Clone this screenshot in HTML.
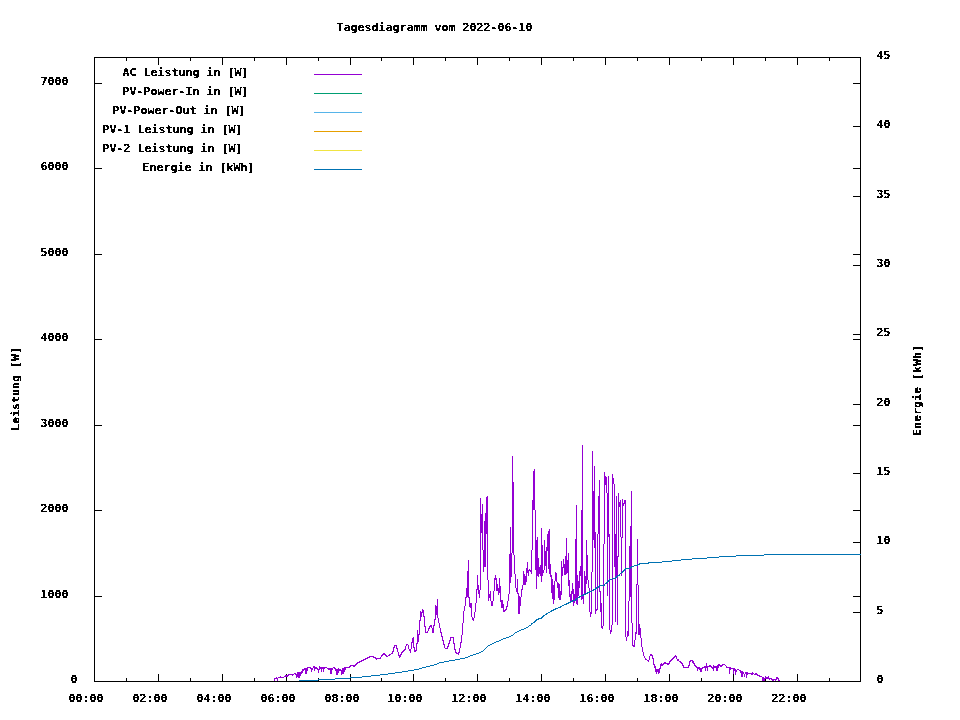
<!DOCTYPE html>
<html lang="de"><head><meta charset="utf-8"><title>Tagesdiagramm vom 2022-06-10</title>
<style>html,body{margin:0;padding:0;background:#fff;overflow:hidden}svg{display:block}text{font-family:"DejaVu Sans Mono", "Liberation Mono", monospace;font-weight:bold;font-size:11px;fill:#000;white-space:pre}</style></head><body>
<svg width="960" height="720" viewBox="0 0 960 720">
<rect width="960" height="720" fill="#fff"/>
<defs><filter id="px" x="0" y="0" width="960" height="720" filterUnits="userSpaceOnUse" color-interpolation-filters="sRGB"><feComponentTransfer><feFuncA type="discrete" tableValues="0 0 1 1 1"/></feComponentTransfer></filter></defs>
<path d="M94 57h767v1h-767zM94 681h767v1h-767zM94 57h1v625h-1zM860 57h1v625h-1zM126 678h1v4h-1zM126 57h1v4h-1zM158 674h1v8h-1zM158 57h1v8h-1zM190 678h1v4h-1zM190 57h1v4h-1zM222 674h1v8h-1zM222 57h1v8h-1zM254 678h1v4h-1zM254 57h1v4h-1zM286 674h1v8h-1zM286 57h1v8h-1zM318 678h1v4h-1zM318 57h1v4h-1zM350 674h1v8h-1zM350 57h1v8h-1zM381 678h1v4h-1zM381 57h1v4h-1zM413 674h1v8h-1zM413 57h1v8h-1zM445 678h1v4h-1zM445 57h1v4h-1zM477 674h1v8h-1zM477 57h1v8h-1zM509 678h1v4h-1zM509 57h1v4h-1zM541 674h1v8h-1zM541 57h1v8h-1zM573 678h1v4h-1zM573 57h1v4h-1zM605 674h1v8h-1zM605 57h1v8h-1zM637 678h1v4h-1zM637 57h1v4h-1zM669 674h1v8h-1zM669 57h1v8h-1zM701 678h1v4h-1zM701 57h1v4h-1zM733 674h1v8h-1zM733 57h1v8h-1zM765 678h1v4h-1zM765 57h1v4h-1zM797 674h1v8h-1zM797 57h1v8h-1zM829 678h1v4h-1zM829 57h1v4h-1zM94 596h8v1h-8zM853 596h8v1h-8zM94 510h8v1h-8zM853 510h8v1h-8zM94 425h8v1h-8zM853 425h8v1h-8zM94 339h8v1h-8zM853 339h8v1h-8zM94 254h8v1h-8zM853 254h8v1h-8zM94 168h8v1h-8zM853 168h8v1h-8zM94 83h8v1h-8zM853 83h8v1h-8zM853 612h8v1h-8zM853 542h8v1h-8zM853 473h8v1h-8zM853 404h8v1h-8zM853 334h8v1h-8zM853 265h8v1h-8zM853 196h8v1h-8zM853 126h8v1h-8z" fill="#000" shape-rendering="crispEdges"/>
<path d="M274 678h1v3h-1zM275 678h1v1h-1zM276 677h1v2h-1zM277 678h1v3h-1zM278 677h1v1h-1zM279 677h1v1h-1zM280 676h1v2h-1zM281 677h1v1h-1zM282 677h1v1h-1zM283 677h1v1h-1zM284 676h1v1h-1zM285 675h1v2h-1zM286 675h1v2h-1zM287 675h1v2h-1zM288 674h1v2h-1zM289 674h1v1h-1zM290 674h1v1h-1zM291 674h1v1h-1zM292 674h1v2h-1zM293 674h1v1h-1zM294 673h1v1h-1zM295 673h1v2h-1zM296 674h1v4h-1zM297 672h1v5h-1zM298 672h1v6h-1zM299 672h1v6h-1zM300 672h1v4h-1zM301 671h1v3h-1zM302 669h1v4h-1zM303 669h1v2h-1zM304 668h1v2h-1zM305 668h1v6h-1zM306 668h1v6h-1zM307 667h1v4h-1zM308 667h1v1h-1zM309 667h1v1h-1zM310 667h1v2h-1zM311 668h1v4h-1zM312 668h1v2h-1zM313 666h1v2h-1zM314 666h1v5h-1zM315 667h1v2h-1zM316 667h1v2h-1zM317 668h1v2h-1zM318 669h1v4h-1zM319 666h1v4h-1zM320 667h1v2h-1zM321 667h1v5h-1zM322 667h1v2h-1zM323 667h1v5h-1zM324 667h1v2h-1zM325 667h1v1h-1zM326 667h1v1h-1zM327 668h1v1h-1zM328 668h1v2h-1zM329 668h1v2h-1zM330 668h1v6h-1zM331 668h1v6h-1zM332 668h1v2h-1zM333 667h1v1h-1zM334 667h1v2h-1zM335 668h1v3h-1zM336 669h1v6h-1zM337 669h1v6h-1zM338 668h1v5h-1zM339 669h1v2h-1zM340 669h1v2h-1zM341 670h1v5h-1zM342 668h1v6h-1zM343 668h1v6h-1zM344 667h1v5h-1zM345 667h1v3h-1zM346 667h1v1h-1zM347 667h1v1h-1zM348 667h1v1h-1zM349 666h1v2h-1zM350 665h1v2h-1zM351 665h1v1h-1zM352 665h1v1h-1zM353 665h1v2h-1zM354 665h1v2h-1zM355 664h1v2h-1zM356 663h1v2h-1zM357 662h1v2h-1zM358 662h1v1h-1zM359 661h1v2h-1zM360 661h1v1h-1zM361 660h1v2h-1zM362 660h1v1h-1zM363 659h1v2h-1zM364 659h1v1h-1zM365 658h1v2h-1zM366 658h1v1h-1zM367 657h1v2h-1zM368 657h1v1h-1zM369 656h1v2h-1zM370 656h1v1h-1zM371 656h1v1h-1zM372 656h1v1h-1zM373 656h1v2h-1zM374 657h1v1h-1zM375 657h1v2h-1zM376 658h1v2h-1zM377 658h1v1h-1zM378 658h1v1h-1zM379 658h1v1h-1zM380 657h1v2h-1zM381 655h1v2h-1zM382 654h1v2h-1zM383 653h1v2h-1zM384 653h1v2h-1zM385 654h1v2h-1zM386 655h1v2h-1zM387 656h1v1h-1zM388 655h1v1h-1zM389 654h1v2h-1zM390 654h1v1h-1zM391 653h1v1h-1zM392 651h1v3h-1zM393 647h1v5h-1zM394 645h1v3h-1zM395 645h1v1h-1zM396 645h1v4h-1zM397 648h1v4h-1zM398 652h1v4h-1zM399 655h1v3h-1zM400 654h1v3h-1zM401 652h1v3h-1zM402 651h1v2h-1zM403 650h1v2h-1zM404 649h1v2h-1zM405 646h1v4h-1zM406 644h1v2h-1zM407 644h1v1h-1zM408 645h1v4h-1zM409 649h1v2h-1zM410 649h1v4h-1zM411 642h1v7h-1zM412 638h1v5h-1zM413 637h1v11h-1zM414 647h1v5h-1zM415 650h1v2h-1zM416 643h1v8h-1zM417 630h1v14h-1zM418 634h1v8h-1zM419 620h1v15h-1zM420 611h1v10h-1zM421 612h1v5h-1zM422 609h1v4h-1zM423 610h1v7h-1zM424 616h1v11h-1zM425 626h1v7h-1zM426 632h1v1h-1zM427 631h1v2h-1zM428 628h1v3h-1zM429 626h1v3h-1zM430 625h1v2h-1zM431 625h1v3h-1zM432 628h1v5h-1zM433 625h1v8h-1zM434 619h1v7h-1zM435 605h1v15h-1zM436 606h1v9h-1zM437 599h1v19h-1zM438 618h1v5h-1zM439 623h1v5h-1zM440 628h1v5h-1zM441 632h1v5h-1zM442 636h1v5h-1zM443 640h1v5h-1zM444 644h1v4h-1zM445 648h1v1h-1zM446 648h1v1h-1zM447 646h1v3h-1zM448 643h1v4h-1zM449 640h1v4h-1zM450 637h1v4h-1zM451 637h1v1h-1zM452 637h1v1h-1zM453 637h1v7h-1zM454 643h1v7h-1zM455 649h1v4h-1zM456 652h1v2h-1zM457 653h1v1h-1zM458 652h1v3h-1zM459 648h1v5h-1zM460 642h1v6h-1zM461 635h1v8h-1zM462 623h1v12h-1zM463 611h1v12h-1zM464 606h1v5h-1zM465 597h1v9h-1zM466 588h1v10h-1zM467 571h1v26h-1zM468 560h1v38h-1zM469 597h1v10h-1zM470 603h1v5h-1zM471 603h1v14h-1zM472 617h1v3h-1zM473 618h1v3h-1zM474 612h1v6h-1zM475 603h1v9h-1zM476 589h1v14h-1zM477 575h1v15h-1zM478 585h1v9h-1zM479 590h1v8h-1zM480 498h1v92h-1zM481 514h1v19h-1zM482 504h1v46h-1zM483 550h1v22h-1zM484 521h1v46h-1zM485 513h1v54h-1zM486 497h1v37h-1zM487 496h1v84h-1zM488 580h1v21h-1zM489 594h1v4h-1zM490 591h1v10h-1zM491 601h1v5h-1zM492 601h1v5h-1zM493 591h1v10h-1zM494 578h1v13h-1zM495 575h1v5h-1zM496 578h1v13h-1zM497 584h1v7h-1zM498 588h1v7h-1zM499 578h1v15h-1zM500 586h1v16h-1zM501 600h1v8h-1zM502 600h1v8h-1zM503 604h1v8h-1zM504 610h1v2h-1zM505 609h1v2h-1zM506 606h1v4h-1zM507 601h1v6h-1zM508 594h1v7h-1zM509 554h1v40h-1zM510 527h1v56h-1zM511 553h1v24h-1zM512 456h1v97h-1zM513 482h1v73h-1zM514 555h1v19h-1zM515 574h1v14h-1zM516 588h1v4h-1zM517 579h1v15h-1zM518 593h1v21h-1zM519 596h1v18h-1zM520 597h1v9h-1zM521 589h1v8h-1zM522 585h1v5h-1zM523 571h1v14h-1zM524 574h1v11h-1zM525 576h1v9h-1zM526 568h1v14h-1zM527 562h1v11h-1zM528 570h1v6h-1zM529 569h1v2h-1zM530 570h1v2h-1zM531 550h1v24h-1zM532 500h1v50h-1zM533 471h1v39h-1zM534 469h1v41h-1zM535 510h1v60h-1zM536 540h1v49h-1zM537 537h1v39h-1zM538 558h1v19h-1zM539 567h1v7h-1zM540 565h1v11h-1zM541 528h1v54h-1zM542 545h1v31h-1zM543 570h1v3h-1zM544 540h1v30h-1zM545 551h1v15h-1zM546 547h1v26h-1zM547 534h1v17h-1zM548 531h1v38h-1zM549 529h1v45h-1zM550 564h1v13h-1zM551 575h1v18h-1zM552 579h1v20h-1zM553 585h1v19h-1zM554 581h1v19h-1zM555 572h1v9h-1zM556 573h1v9h-1zM557 582h1v6h-1zM558 583h1v15h-1zM559 584h1v16h-1zM560 591h1v9h-1zM561 561h1v34h-1zM562 567h1v9h-1zM563 559h1v9h-1zM564 564h1v11h-1zM565 556h1v19h-1zM566 538h1v36h-1zM567 560h1v13h-1zM568 553h1v33h-1zM569 580h1v17h-1zM570 594h1v9h-1zM571 591h1v10h-1zM572 583h1v11h-1zM573 589h1v17h-1zM574 594h1v9h-1zM575 539h1v62h-1zM576 505h1v99h-1zM577 575h1v30h-1zM578 581h1v15h-1zM579 571h1v17h-1zM580 566h1v10h-1zM581 510h1v90h-1zM582 445h1v154h-1zM583 595h1v9h-1zM584 571h1v24h-1zM585 576h1v18h-1zM586 540h1v44h-1zM587 555h1v25h-1zM588 580h1v8h-1zM589 588h1v24h-1zM590 612h1v5h-1zM591 572h1v42h-1zM592 451h1v121h-1zM593 491h1v49h-1zM594 466h1v82h-1zM595 532h1v82h-1zM596 609h1v2h-1zM597 534h1v76h-1zM598 496h1v38h-1zM599 480h1v112h-1zM600 591h1v21h-1zM601 603h1v25h-1zM602 626h1v3h-1zM603 544h1v82h-1zM604 472h1v72h-1zM605 476h1v9h-1zM606 477h1v16h-1zM607 493h1v103h-1zM608 476h1v61h-1zM609 534h1v96h-1zM610 630h1v4h-1zM611 625h1v7h-1zM612 474h1v151h-1zM613 478h1v6h-1zM614 484h1v83h-1zM615 534h1v88h-1zM616 496h1v82h-1zM617 556h1v69h-1zM618 493h1v64h-1zM619 502h1v5h-1zM620 500h1v37h-1zM621 537h1v39h-1zM622 499h1v39h-1zM623 503h1v3h-1zM624 500h1v4h-1zM625 500h1v137h-1zM626 637h1v4h-1zM627 631h1v6h-1zM628 601h1v35h-1zM629 546h1v55h-1zM630 526h1v71h-1zM631 491h1v132h-1zM632 623h1v23h-1zM633 645h1v2h-1zM634 640h1v7h-1zM635 632h1v8h-1zM636 584h1v50h-1zM637 539h1v46h-1zM638 585h1v50h-1zM639 624h1v11h-1zM640 628h1v10h-1zM641 638h1v9h-1zM642 647h1v5h-1zM643 652h1v4h-1zM644 656h1v2h-1zM645 658h1v2h-1zM646 659h1v1h-1zM647 660h1v1h-1zM648 660h1v2h-1zM649 656h1v4h-1zM650 654h1v2h-1zM651 654h1v2h-1zM652 655h1v4h-1zM653 658h1v7h-1zM654 664h1v4h-1zM655 666h1v6h-1zM656 669h1v5h-1zM657 669h1v3h-1zM658 669h1v5h-1zM659 668h1v5h-1zM660 664h1v5h-1zM661 663h1v3h-1zM662 664h1v2h-1zM663 663h1v2h-1zM664 662h1v2h-1zM665 662h1v2h-1zM666 663h1v1h-1zM667 663h1v2h-1zM668 663h1v2h-1zM669 661h1v3h-1zM670 660h1v2h-1zM671 659h1v2h-1zM672 658h1v2h-1zM673 657h1v2h-1zM674 656h1v2h-1zM675 655h1v2h-1zM676 656h1v3h-1zM677 659h1v2h-1zM678 659h1v2h-1zM679 661h1v1h-1zM680 661h1v2h-1zM681 662h1v2h-1zM682 663h1v3h-1zM683 665h1v3h-1zM684 667h1v1h-1zM685 667h1v1h-1zM686 667h1v1h-1zM687 667h1v1h-1zM688 665h1v3h-1zM689 661h1v5h-1zM690 660h1v2h-1zM691 660h1v1h-1zM692 660h1v3h-1zM693 661h1v3h-1zM694 663h1v3h-1zM695 665h1v2h-1zM696 666h1v2h-1zM697 667h1v4h-1zM698 667h1v2h-1zM699 667h1v3h-1zM700 668h1v4h-1zM701 668h1v4h-1zM702 667h1v2h-1zM703 667h1v1h-1zM704 666h1v2h-1zM705 666h1v5h-1zM706 663h1v5h-1zM707 666h1v5h-1zM708 666h1v1h-1zM709 665h1v2h-1zM710 665h1v2h-1zM711 666h1v2h-1zM712 667h1v2h-1zM713 665h1v6h-1zM714 666h1v2h-1zM715 666h1v2h-1zM716 666h1v5h-1zM717 665h1v6h-1zM718 664h1v4h-1zM719 664h1v2h-1zM720 665h1v2h-1zM721 665h1v2h-1zM722 664h1v2h-1zM723 664h1v1h-1zM724 664h1v1h-1zM725 665h1v1h-1zM726 666h1v2h-1zM727 667h1v1h-1zM728 667h1v1h-1zM729 667h1v7h-1zM730 667h1v3h-1zM731 668h1v1h-1zM732 668h1v1h-1zM733 668h1v6h-1zM734 668h1v3h-1zM735 669h1v6h-1zM736 670h1v2h-1zM737 669h1v1h-1zM738 669h1v1h-1zM739 670h1v1h-1zM740 670h1v3h-1zM741 671h1v6h-1zM742 671h1v6h-1zM743 672h1v2h-1zM744 674h1v3h-1zM745 672h1v2h-1zM746 672h1v6h-1zM747 672h1v3h-1zM748 673h1v1h-1zM749 673h1v1h-1zM750 673h1v1h-1zM751 673h1v2h-1zM752 672h1v3h-1zM753 673h1v1h-1zM754 674h1v1h-1zM755 673h1v2h-1zM756 673h1v2h-1zM757 674h1v2h-1zM758 675h1v1h-1zM759 675h1v2h-1zM760 676h1v1h-1zM761 676h1v1h-1zM762 677h1v4h-1zM763 677h1v4h-1zM764 678h1v3h-1zM765 676h1v3h-1zM766 677h1v2h-1zM767 677h1v2h-1zM768 676h1v3h-1zM769 678h1v2h-1zM770 678h1v1h-1zM771 678h1v2h-1zM772 679h1v2h-1zM773 679h1v2h-1zM774 679h1v1h-1zM775 679h1v2h-1zM776 677h1v3h-1zM777 677h1v2h-1zM778 678h1v3h-1zM779 680h1v1h-1z" fill="#9400d3" shape-rendering="crispEdges"/>
<path d="M299 680h1v1h-1zM300 680h1v1h-1zM301 680h1v1h-1zM302 680h1v1h-1zM303 680h1v1h-1zM304 680h1v1h-1zM305 680h1v1h-1zM306 680h1v1h-1zM307 680h1v1h-1zM308 680h1v1h-1zM309 680h1v1h-1zM310 680h1v1h-1zM311 680h1v1h-1zM312 680h1v1h-1zM313 680h1v1h-1zM314 680h1v1h-1zM315 680h1v1h-1zM316 680h1v1h-1zM317 680h1v1h-1zM318 679h1v1h-1zM319 679h1v1h-1zM320 679h1v1h-1zM321 679h1v1h-1zM322 679h1v1h-1zM323 679h1v1h-1zM324 679h1v1h-1zM325 679h1v1h-1zM326 679h1v1h-1zM327 679h1v1h-1zM328 679h1v1h-1zM329 679h1v1h-1zM330 679h1v1h-1zM331 679h1v1h-1zM332 679h1v1h-1zM333 679h1v1h-1zM334 679h1v1h-1zM335 678h1v1h-1zM336 678h1v1h-1zM337 678h1v1h-1zM338 678h1v1h-1zM339 678h1v1h-1zM340 678h1v1h-1zM341 678h1v1h-1zM342 678h1v1h-1zM343 678h1v1h-1zM344 678h1v1h-1zM345 678h1v1h-1zM346 678h1v1h-1zM347 678h1v1h-1zM348 678h1v1h-1zM349 678h1v1h-1zM350 677h1v1h-1zM351 677h1v1h-1zM352 677h1v1h-1zM353 677h1v1h-1zM354 677h1v1h-1zM355 677h1v1h-1zM356 677h1v1h-1zM357 677h1v1h-1zM358 677h1v1h-1zM359 677h1v1h-1zM360 677h1v1h-1zM361 677h1v1h-1zM362 676h1v1h-1zM363 676h1v1h-1zM364 676h1v1h-1zM365 676h1v1h-1zM366 676h1v1h-1zM367 676h1v1h-1zM368 676h1v1h-1zM369 676h1v1h-1zM370 676h1v1h-1zM371 675h1v1h-1zM372 675h1v1h-1zM373 675h1v1h-1zM374 675h1v1h-1zM375 675h1v1h-1zM376 675h1v1h-1zM377 675h1v1h-1zM378 675h1v1h-1zM379 675h1v1h-1zM380 674h1v1h-1zM381 674h1v1h-1zM382 674h1v1h-1zM383 674h1v1h-1zM384 674h1v1h-1zM385 674h1v1h-1zM386 674h1v1h-1zM387 674h1v1h-1zM388 673h1v1h-1zM389 673h1v1h-1zM390 673h1v1h-1zM391 673h1v1h-1zM392 673h1v1h-1zM393 673h1v1h-1zM394 673h1v1h-1zM395 672h1v1h-1zM396 672h1v1h-1zM397 672h1v1h-1zM398 672h1v1h-1zM399 672h1v1h-1zM400 672h1v1h-1zM401 672h1v1h-1zM402 671h1v1h-1zM403 671h1v1h-1zM404 671h1v1h-1zM405 671h1v1h-1zM406 671h1v1h-1zM407 671h1v1h-1zM408 670h1v1h-1zM409 670h1v1h-1zM410 670h1v1h-1zM411 670h1v1h-1zM412 670h1v1h-1zM413 670h1v1h-1zM414 669h1v1h-1zM415 669h1v1h-1zM416 669h1v1h-1zM417 669h1v1h-1zM418 669h1v1h-1zM419 668h1v1h-1zM420 668h1v1h-1zM421 668h1v1h-1zM422 667h1v1h-1zM423 667h1v1h-1zM424 667h1v1h-1zM425 667h1v1h-1zM426 666h1v1h-1zM427 666h1v1h-1zM428 666h1v1h-1zM429 666h1v1h-1zM430 665h1v1h-1zM431 665h1v1h-1zM432 665h1v1h-1zM433 665h1v1h-1zM434 664h1v1h-1zM435 664h1v1h-1zM436 664h1v1h-1zM437 663h1v1h-1zM438 663h1v1h-1zM439 662h1v1h-1zM440 662h1v1h-1zM441 662h1v1h-1zM442 662h1v1h-1zM443 662h1v1h-1zM444 661h1v1h-1zM445 661h1v1h-1zM446 661h1v1h-1zM447 661h1v1h-1zM448 661h1v1h-1zM449 660h1v1h-1zM450 660h1v1h-1zM451 660h1v1h-1zM452 660h1v1h-1zM453 660h1v1h-1zM454 660h1v1h-1zM455 659h1v1h-1zM456 659h1v1h-1zM457 659h1v1h-1zM458 659h1v1h-1zM459 659h1v1h-1zM460 658h1v1h-1zM461 658h1v1h-1zM462 658h1v1h-1zM463 658h1v1h-1zM464 658h1v1h-1zM465 657h1v1h-1zM466 657h1v1h-1zM467 657h1v1h-1zM468 656h1v1h-1zM469 656h1v1h-1zM470 655h1v1h-1zM471 655h1v1h-1zM472 655h1v1h-1zM473 654h1v1h-1zM474 654h1v1h-1zM475 654h1v1h-1zM476 653h1v1h-1zM477 653h1v1h-1zM478 653h1v1h-1zM479 652h1v1h-1zM480 652h1v1h-1zM481 651h1v1h-1zM482 651h1v1h-1zM483 650h1v1h-1zM484 649h1v1h-1zM485 648h1v1h-1zM486 647h1v1h-1zM487 646h1v1h-1zM488 645h1v1h-1zM489 645h1v1h-1zM490 644h1v1h-1zM491 644h1v1h-1zM492 643h1v1h-1zM493 643h1v1h-1zM494 642h1v1h-1zM495 642h1v1h-1zM496 641h1v1h-1zM497 641h1v1h-1zM498 641h1v1h-1zM499 640h1v1h-1zM500 640h1v1h-1zM501 639h1v1h-1zM502 639h1v1h-1zM503 638h1v1h-1zM504 638h1v1h-1zM505 638h1v1h-1zM506 637h1v1h-1zM507 637h1v1h-1zM508 637h1v1h-1zM509 636h1v1h-1zM510 636h1v1h-1zM511 635h1v1h-1zM512 635h1v1h-1zM513 634h1v1h-1zM514 633h1v1h-1zM515 632h1v1h-1zM516 632h1v1h-1zM517 631h1v1h-1zM518 631h1v1h-1zM519 630h1v1h-1zM520 630h1v1h-1zM521 629h1v1h-1zM522 629h1v1h-1zM523 629h1v1h-1zM524 628h1v1h-1zM525 628h1v1h-1zM526 627h1v1h-1zM527 627h1v1h-1zM528 626h1v1h-1zM529 625h1v1h-1zM530 625h1v1h-1zM531 623h1v2h-1zM532 623h1v1h-1zM533 622h1v1h-1zM534 621h1v2h-1zM535 620h1v2h-1zM536 619h1v2h-1zM537 619h1v1h-1zM538 618h1v2h-1zM539 618h1v1h-1zM540 618h1v1h-1zM541 617h1v2h-1zM542 616h1v2h-1zM543 615h1v2h-1zM544 615h1v1h-1zM545 614h1v1h-1zM546 613h1v2h-1zM547 613h1v1h-1zM548 612h1v1h-1zM549 612h1v1h-1zM550 611h1v1h-1zM551 610h1v2h-1zM552 610h1v1h-1zM553 609h1v2h-1zM554 609h1v1h-1zM555 608h1v2h-1zM556 608h1v1h-1zM557 608h1v1h-1zM558 607h1v1h-1zM559 607h1v1h-1zM560 606h1v2h-1zM561 606h1v1h-1zM562 605h1v1h-1zM563 605h1v1h-1zM564 604h1v1h-1zM565 604h1v1h-1zM566 603h1v2h-1zM567 603h1v1h-1zM568 602h1v2h-1zM569 602h1v1h-1zM570 601h1v2h-1zM571 601h1v1h-1zM572 600h1v2h-1zM573 600h1v1h-1zM574 600h1v1h-1zM575 599h1v2h-1zM576 598h1v2h-1zM577 598h1v1h-1zM578 597h1v1h-1zM579 596h1v2h-1zM580 596h1v1h-1zM581 595h1v1h-1zM582 595h1v1h-1zM583 594h1v2h-1zM584 594h1v1h-1zM585 593h1v2h-1zM586 593h1v1h-1zM587 592h1v2h-1zM588 592h1v1h-1zM589 591h1v2h-1zM590 591h1v1h-1zM591 591h1v1h-1zM592 590h1v1h-1zM593 589h1v2h-1zM594 589h1v1h-1zM595 588h1v2h-1zM596 587h1v2h-1zM597 587h1v1h-1zM598 586h1v2h-1zM599 585h1v2h-1zM600 585h1v1h-1zM601 585h1v1h-1zM602 585h1v1h-1zM603 585h1v1h-1zM604 584h1v2h-1zM605 583h1v1h-1zM606 582h1v2h-1zM607 581h1v2h-1zM608 580h1v2h-1zM609 579h1v2h-1zM610 579h1v1h-1zM611 579h1v1h-1zM612 578h1v1h-1zM613 578h1v1h-1zM614 578h1v1h-1zM615 577h1v2h-1zM616 576h1v2h-1zM617 575h1v2h-1zM618 575h1v1h-1zM619 574h1v2h-1zM620 573h1v1h-1zM621 572h1v1h-1zM622 571h1v2h-1zM623 570h1v2h-1zM624 569h1v2h-1zM625 568h1v2h-1zM626 568h1v1h-1zM627 568h1v1h-1zM628 568h1v1h-1zM629 568h1v1h-1zM630 567h1v2h-1zM631 566h1v2h-1zM632 566h1v1h-1zM633 566h1v1h-1zM634 565h1v1h-1zM635 565h1v1h-1zM636 565h1v1h-1zM637 564h1v2h-1zM638 564h1v1h-1zM639 563h1v2h-1zM640 563h1v1h-1zM641 563h1v1h-1zM642 563h1v1h-1zM643 563h1v1h-1zM644 563h1v1h-1zM645 563h1v1h-1zM646 563h1v1h-1zM647 563h1v1h-1zM648 562h1v2h-1zM649 562h1v1h-1zM650 562h1v1h-1zM651 562h1v1h-1zM652 562h1v1h-1zM653 562h1v1h-1zM654 562h1v1h-1zM655 562h1v1h-1zM656 562h1v1h-1zM657 562h1v1h-1zM658 562h1v1h-1zM659 562h1v1h-1zM660 562h1v1h-1zM661 562h1v1h-1zM662 561h1v1h-1zM663 561h1v1h-1zM664 561h1v1h-1zM665 561h1v1h-1zM666 561h1v1h-1zM667 561h1v1h-1zM668 561h1v1h-1zM669 561h1v1h-1zM670 561h1v1h-1zM671 561h1v1h-1zM672 560h1v1h-1zM673 560h1v1h-1zM674 560h1v1h-1zM675 560h1v1h-1zM676 560h1v1h-1zM677 560h1v1h-1zM678 560h1v1h-1zM679 560h1v1h-1zM680 560h1v1h-1zM681 559h1v1h-1zM682 559h1v1h-1zM683 559h1v1h-1zM684 559h1v1h-1zM685 559h1v1h-1zM686 559h1v1h-1zM687 559h1v1h-1zM688 559h1v1h-1zM689 559h1v1h-1zM690 559h1v1h-1zM691 559h1v1h-1zM692 558h1v1h-1zM693 558h1v1h-1zM694 558h1v1h-1zM695 558h1v1h-1zM696 558h1v1h-1zM697 558h1v1h-1zM698 558h1v1h-1zM699 558h1v1h-1zM700 558h1v1h-1zM701 558h1v1h-1zM702 558h1v1h-1zM703 558h1v1h-1zM704 558h1v1h-1zM705 558h1v1h-1zM706 558h1v1h-1zM707 557h1v1h-1zM708 557h1v1h-1zM709 557h1v1h-1zM710 557h1v1h-1zM711 557h1v1h-1zM712 557h1v1h-1zM713 557h1v1h-1zM714 557h1v1h-1zM715 557h1v1h-1zM716 557h1v1h-1zM717 557h1v1h-1zM718 557h1v1h-1zM719 556h1v1h-1zM720 556h1v1h-1zM721 556h1v1h-1zM722 556h1v1h-1zM723 556h1v1h-1zM724 556h1v1h-1zM725 556h1v1h-1zM726 556h1v1h-1zM727 556h1v1h-1zM728 556h1v1h-1zM729 556h1v1h-1zM730 556h1v1h-1zM731 556h1v1h-1zM732 556h1v1h-1zM733 556h1v1h-1zM734 556h1v1h-1zM735 556h1v1h-1zM736 555h1v1h-1zM737 555h1v1h-1zM738 555h1v1h-1zM739 555h1v1h-1zM740 555h1v1h-1zM741 555h1v1h-1zM742 555h1v1h-1zM743 555h1v1h-1zM744 555h1v1h-1zM745 555h1v1h-1zM746 555h1v1h-1zM747 555h1v1h-1zM748 555h1v1h-1zM749 555h1v1h-1zM750 555h1v1h-1zM751 555h1v1h-1zM752 555h1v1h-1zM753 555h1v1h-1zM754 555h1v1h-1zM755 555h1v1h-1zM756 555h1v1h-1zM757 555h1v1h-1zM758 555h1v1h-1zM759 555h1v1h-1zM760 555h1v1h-1zM761 555h1v1h-1zM762 555h1v1h-1zM763 555h1v1h-1zM764 554h1v1h-1zM765 554h1v1h-1zM766 554h1v1h-1zM767 554h1v1h-1zM768 554h1v1h-1zM769 554h1v1h-1zM770 554h1v1h-1zM771 554h1v1h-1zM772 554h1v1h-1zM773 554h1v1h-1zM774 554h1v1h-1zM775 554h1v1h-1zM776 554h1v1h-1zM777 554h1v1h-1zM778 554h1v1h-1zM779 554h1v1h-1zM780 554h1v1h-1zM781 554h1v1h-1zM782 554h1v1h-1zM783 554h1v1h-1zM784 554h1v1h-1zM785 554h1v1h-1zM786 554h1v1h-1zM787 554h1v1h-1zM788 554h1v1h-1zM789 554h1v1h-1zM790 554h1v1h-1zM791 554h1v1h-1zM792 554h1v1h-1zM793 554h1v1h-1zM794 554h1v1h-1zM795 554h1v1h-1zM796 554h1v1h-1zM797 554h1v1h-1zM798 554h1v1h-1zM799 554h1v1h-1zM800 554h1v1h-1zM801 554h1v1h-1zM802 554h1v1h-1zM803 554h1v1h-1zM804 554h1v1h-1zM805 554h1v1h-1zM806 554h1v1h-1zM807 554h1v1h-1zM808 554h1v1h-1zM809 554h1v1h-1zM810 554h1v1h-1zM811 554h1v1h-1zM812 554h1v1h-1zM813 554h1v1h-1zM814 554h1v1h-1zM815 554h1v1h-1zM816 554h1v1h-1zM817 554h1v1h-1zM818 554h1v1h-1zM819 554h1v1h-1zM820 554h1v1h-1zM821 554h1v1h-1zM822 554h1v1h-1zM823 554h1v1h-1zM824 554h1v1h-1zM825 554h1v1h-1zM826 554h1v1h-1zM827 554h1v1h-1zM828 554h1v1h-1zM829 554h1v1h-1zM830 554h1v1h-1zM831 554h1v1h-1zM832 554h1v1h-1zM833 554h1v1h-1zM834 554h1v1h-1zM835 554h1v1h-1zM836 554h1v1h-1zM837 554h1v1h-1zM838 554h1v1h-1zM839 554h1v1h-1zM840 554h1v1h-1zM841 554h1v1h-1zM842 554h1v1h-1zM843 554h1v1h-1zM844 554h1v1h-1zM845 554h1v1h-1zM846 554h1v1h-1zM847 554h1v1h-1zM848 554h1v1h-1zM849 554h1v1h-1zM850 554h1v1h-1zM851 554h1v1h-1zM852 554h1v1h-1zM853 554h1v1h-1zM854 554h1v1h-1zM855 554h1v1h-1zM856 554h1v1h-1zM857 554h1v1h-1zM858 554h1v1h-1zM859 554h1v1h-1zM860 554h1v1h-1z" fill="#0072b2" shape-rendering="crispEdges"/>
<g filter="url(#px)">
<path d="M314 74h48v1h-48z" fill="#9400d3" shape-rendering="crispEdges"/>
<text x="122.6" y="76" textLength="126" lengthAdjust="spacingAndGlyphs">AC Leistung in [W]</text>
<path d="M314 93h48v1h-48z" fill="#009e73" shape-rendering="crispEdges"/>
<text x="122.6" y="95" textLength="126" lengthAdjust="spacingAndGlyphs">PV-Power-In in [W]</text>
<path d="M314 112h48v1h-48z" fill="#56b4e9" shape-rendering="crispEdges"/>
<text x="112.6" y="114" textLength="133" lengthAdjust="spacingAndGlyphs">PV-Power-Out in [W]</text>
<path d="M314 131h48v1h-48z" fill="#e69f00" shape-rendering="crispEdges"/>
<text x="102.6" y="133" textLength="140" lengthAdjust="spacingAndGlyphs">PV-1 Leistung in [W]</text>
<path d="M314 150h48v1h-48z" fill="#f0e442" shape-rendering="crispEdges"/>
<text x="102.6" y="152" textLength="140" lengthAdjust="spacingAndGlyphs">PV-2 Leistung in [W]</text>
<path d="M314 169h48v1h-48z" fill="#0072b2" shape-rendering="crispEdges"/>
<text x="142.6" y="171" textLength="112" lengthAdjust="spacingAndGlyphs">Energie in [kWh]</text>
<text x="336.6" y="31" textLength="196" lengthAdjust="spacingAndGlyphs">Tagesdiagramm vom 2022-06-10</text>
<text x="70.6" y="683" textLength="7" lengthAdjust="spacingAndGlyphs">0</text>
<text x="40.6" y="598" textLength="28" lengthAdjust="spacingAndGlyphs">1000</text>
<text x="40.6" y="512" textLength="28" lengthAdjust="spacingAndGlyphs">2000</text>
<text x="40.6" y="427" textLength="28" lengthAdjust="spacingAndGlyphs">3000</text>
<text x="40.6" y="341" textLength="28" lengthAdjust="spacingAndGlyphs">4000</text>
<text x="40.6" y="256" textLength="28" lengthAdjust="spacingAndGlyphs">5000</text>
<text x="40.6" y="170" textLength="28" lengthAdjust="spacingAndGlyphs">6000</text>
<text x="40.6" y="85" textLength="28" lengthAdjust="spacingAndGlyphs">7000</text>
<text x="876.6" y="683" textLength="7" lengthAdjust="spacingAndGlyphs">0</text>
<text x="876.6" y="614" textLength="7" lengthAdjust="spacingAndGlyphs">5</text>
<text x="876.6" y="544" textLength="14" lengthAdjust="spacingAndGlyphs">10</text>
<text x="876.6" y="475" textLength="14" lengthAdjust="spacingAndGlyphs">15</text>
<text x="876.6" y="406" textLength="14" lengthAdjust="spacingAndGlyphs">20</text>
<text x="876.6" y="336" textLength="14" lengthAdjust="spacingAndGlyphs">25</text>
<text x="876.6" y="267" textLength="14" lengthAdjust="spacingAndGlyphs">30</text>
<text x="876.6" y="198" textLength="14" lengthAdjust="spacingAndGlyphs">35</text>
<text x="876.6" y="128" textLength="14" lengthAdjust="spacingAndGlyphs">40</text>
<text x="876.6" y="59" textLength="14" lengthAdjust="spacingAndGlyphs">45</text>
<text x="68.6" y="702" textLength="35" lengthAdjust="spacingAndGlyphs">00:00</text>
<text x="132.6" y="702" textLength="35" lengthAdjust="spacingAndGlyphs">02:00</text>
<text x="196.6" y="702" textLength="35" lengthAdjust="spacingAndGlyphs">04:00</text>
<text x="260.6" y="702" textLength="35" lengthAdjust="spacingAndGlyphs">06:00</text>
<text x="324.6" y="702" textLength="35" lengthAdjust="spacingAndGlyphs">08:00</text>
<text x="387.6" y="702" textLength="35" lengthAdjust="spacingAndGlyphs">10:00</text>
<text x="451.6" y="702" textLength="35" lengthAdjust="spacingAndGlyphs">12:00</text>
<text x="515.6" y="702" textLength="35" lengthAdjust="spacingAndGlyphs">14:00</text>
<text x="579.6" y="702" textLength="35" lengthAdjust="spacingAndGlyphs">16:00</text>
<text x="643.6" y="702" textLength="35" lengthAdjust="spacingAndGlyphs">18:00</text>
<text x="707.6" y="702" textLength="35" lengthAdjust="spacingAndGlyphs">20:00</text>
<text x="771.6" y="702" textLength="35" lengthAdjust="spacingAndGlyphs">22:00</text>
<text transform="translate(19.2 431) rotate(-90)" textLength="84" lengthAdjust="spacingAndGlyphs">Leistung [W]</text>
<text transform="translate(920.8 436) rotate(-90)" textLength="91" lengthAdjust="spacingAndGlyphs">Energie [kWh]</text>
</g>
</svg></body></html>
